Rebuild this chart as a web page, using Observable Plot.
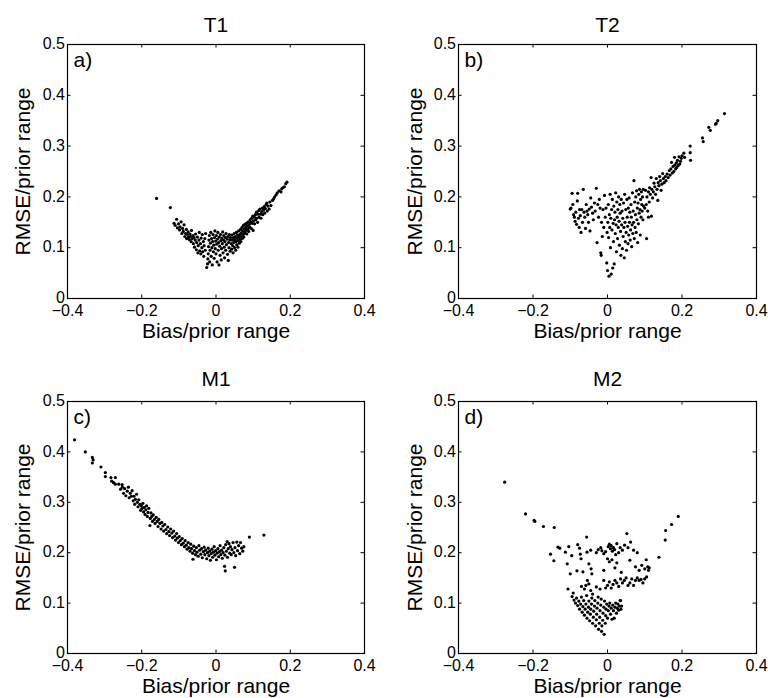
<!DOCTYPE html>
<html><head><meta charset="utf-8">
<script src="https://cdn.jsdelivr.net/npm/d3@7"></script>
<script src="https://cdn.jsdelivr.net/npm/@observablehq/plot@0.6"></script>
<style>
html,body{margin:0;padding:0;background:#fff;}
#chart{position:relative;width:768px;height:698px;overflow:hidden;background:#fff;}
#chart svg{position:absolute;}
</style></head><body><div id="chart"></div>
<script>
const panelTitles = ["T1", "T2", "M1", "M2"];
const panelLetters = ["a)", "b)", "c)", "d)"];
const xLabel = "Bias/prior range";
const yLabel = "RMSE/prior range";
const xTicks = [-0.4, -0.2, 0, 0.2, 0.4];
const yTicks = [0, 0.1, 0.2, 0.3, 0.4, 0.5];
const xInnerTicks = [-0.2, 0, 0.2];
const yInnerTicks = [0.1, 0.2, 0.3, 0.4];

// [bias, rmse] pairs
const t1Points = [
[-0.160,0.197],[-0.123,0.179],
[-0.113,0.148],[-0.110,0.144],[-0.106,0.156],[-0.104,0.139],[-0.101,0.147],[-0.098,0.135],[-0.097,0.141],[-0.094,0.151],[-0.092,0.128],[-0.090,0.138],[-0.088,0.132],[-0.086,0.145],[-0.084,0.122],[-0.082,0.128],[-0.080,0.136],[-0.079,0.118],[-0.077,0.126],[-0.075,0.131],[-0.074,0.121],[-0.072,0.116],[-0.070,0.127],[-0.069,0.122],[-0.067,0.112],[-0.066,0.134],[-0.064,0.118],[-0.062,0.124],[-0.061,0.108],[-0.059,0.120],[-0.058,0.101],[-0.056,0.115],[-0.055,0.127],[-0.053,0.096],[-0.052,0.110],[-0.050,0.121],[-0.049,0.090],[-0.048,0.104],[-0.046,0.115],[-0.045,0.130],[-0.044,0.094],[-0.042,0.108],[-0.041,0.088],[-0.040,0.119],[-0.038,0.100],[-0.037,0.126],[-0.036,0.092],[-0.034,0.112],[-0.033,0.083],[-0.032,0.104],[-0.030,0.118],[-0.029,0.095],[-0.028,0.128],
[-0.025,0.061],[-0.023,0.068],[-0.022,0.078],[-0.021,0.088],[-0.020,0.102],[-0.019,0.115],[-0.018,0.124],[-0.017,0.072],[-0.016,0.095],[-0.015,0.109],[-0.014,0.130],[-0.013,0.083],[-0.012,0.118],[-0.011,0.100],[-0.010,0.066],[-0.009,0.112],[-0.008,0.126],[-0.007,0.092],[-0.006,0.105],[-0.005,0.079],[-0.004,0.120],[-0.003,0.133],[-0.002,0.098],[-0.001,0.113],[0.000,0.088],[0.001,0.124],[0.002,0.107],[0.003,0.072],[0.004,0.117],[0.005,0.130],[0.006,0.095],[0.007,0.110],[0.008,0.066],[0.009,0.121],[0.010,0.103],[0.011,0.085],[0.012,0.126],[0.013,0.114],[0.014,0.076],[0.015,0.098],[0.016,0.119],[0.017,0.108],[0.018,0.131],[0.019,0.090],[0.020,0.115],[0.021,0.124],[0.022,0.101],[0.023,0.080],[0.024,0.112],[0.025,0.120],[0.026,0.095],[0.027,0.128],[0.028,0.106],[0.030,0.117],[0.031,0.087],[0.032,0.122],[0.033,0.075],[0.034,0.110],[0.035,0.100],[0.036,0.126],[0.037,0.115],[0.038,0.093],[0.039,0.120],
[0.041,0.108],[0.042,0.097],[0.043,0.125],[0.044,0.115],[0.045,0.104],[0.046,0.090],[0.047,0.120],[0.048,0.110],[0.049,0.128],[0.050,0.100],[0.051,0.116],[0.052,0.122],[0.053,0.095],[0.054,0.112],[0.055,0.130],[0.056,0.106],[0.057,0.119],[0.058,0.125],[0.059,0.101],[0.060,0.114],[0.061,0.133],[0.062,0.121],[0.063,0.109],[0.064,0.126],[0.065,0.117],[0.066,0.136],[0.067,0.112],[0.068,0.129],[0.069,0.122],[0.070,0.140],[0.071,0.118],[0.072,0.133],[0.073,0.126],[0.074,0.144],[0.075,0.121],[0.076,0.137],[0.077,0.130],[0.078,0.146],[0.079,0.128],[0.080,0.140],[0.081,0.134],[0.082,0.148],[0.083,0.127],[0.085,0.143],[0.086,0.137],[0.087,0.151],[0.088,0.132],[0.090,0.146],[0.091,0.140],[0.092,0.155],[0.094,0.150],[0.095,0.138],[0.096,0.158],[0.098,0.148],[0.099,0.162],[0.100,0.134],[0.101,0.153],[0.103,0.160],[0.104,0.147],[0.106,0.165],[0.107,0.155],[0.109,0.170],[0.110,0.158],[0.112,0.150],[0.113,0.166],[0.115,0.173],[0.116,0.160],[0.118,0.176],[0.120,0.166],[0.121,0.158],[0.123,0.171],[0.125,0.178],[0.126,0.165],[0.128,0.174],[0.130,0.181],[0.131,0.168],[0.133,0.177],[0.135,0.185],[0.137,0.188],[0.138,0.172],[0.140,0.182],[0.143,0.176],[0.145,0.190],[0.148,0.183],[0.152,0.193],[0.155,0.196],[0.158,0.200],[0.162,0.204],[0.165,0.208],[0.170,0.212],[0.175,0.210],[0.177,0.216],[0.180,0.218],[0.184,0.220],[0.188,0.226],[0.191,0.229]
];

const t2Points = [
[0.314,0.364],[0.296,0.350],[0.292,0.345],[0.290,0.343],[0.272,0.337],[0.276,0.331],[0.255,0.316],[0.257,0.309],[0.222,0.300],[0.222,0.287],[0.223,0.272],
[0.205,0.286],[0.207,0.278],[0.200,0.281],[0.198,0.276],[0.196,0.270],[0.194,0.265],[0.192,0.279],[0.190,0.262],[0.188,0.272],[0.186,0.258],[0.185,0.267],[0.183,0.255],[0.181,0.263],[0.180,0.278],[0.178,0.250],[0.176,0.260],[0.174,0.247],[0.172,0.268],[0.170,0.255],[0.168,0.243],[0.166,0.252],[0.163,0.238],[0.160,0.245],[0.157,0.232],[0.155,0.240],[0.152,0.228],[0.150,0.236],[0.148,0.246],[0.146,0.225],[0.144,0.213],[0.142,0.232],[0.140,0.240],[0.138,0.222],[0.136,0.228],[0.135,0.193],[0.133,0.215],[0.131,0.236],[0.129,0.205],[0.127,0.220],[0.125,0.227],[0.123,0.210],[0.121,0.198],[0.119,0.215],[0.117,0.238],[0.115,0.205],[0.113,0.218],[0.112,0.190],[0.110,0.210],[0.108,0.172],[0.106,0.200],[0.104,0.185],[0.102,0.213],[0.100,0.178],[0.105,0.118],[0.110,0.160],[0.118,0.162],
[-0.100,0.176],[-0.098,0.178],[-0.095,0.207],[-0.093,0.185],[-0.091,0.165],[-0.089,0.160],[-0.087,0.152],[-0.085,0.170],[-0.083,0.146],[-0.081,0.192],[-0.080,0.207],[-0.078,0.158],[-0.076,0.140],[-0.075,0.175],[-0.073,0.163],[-0.071,0.130],[-0.069,0.175],[-0.067,0.150],[-0.065,0.215],[-0.063,0.170],[-0.061,0.160],[-0.059,0.138],[-0.057,0.185],[-0.055,0.172],[-0.053,0.165],[-0.051,0.150],[-0.049,0.176],[-0.047,0.133],[-0.045,0.198],[-0.043,0.180],[-0.040,0.168],[-0.038,0.155],[-0.035,0.188],[-0.033,0.172],[-0.030,0.217],[-0.028,0.110],[-0.026,0.185],[-0.024,0.160],[-0.022,0.195],[-0.020,0.178],[-0.018,0.090],[-0.017,0.085],[-0.016,0.150],[-0.014,0.122],[-0.012,0.175],[-0.010,0.140],
[-0.008,0.203],[-0.006,0.160],[-0.004,0.178],[-0.002,0.070],[-0.001,0.130],[0.000,0.055],[0.001,0.150],[0.002,0.185],[0.003,0.120],[0.004,0.044],[0.005,0.165],[0.006,0.140],[0.007,0.205],[0.008,0.100],[0.009,0.158],[0.010,0.048],[0.011,0.175],[0.012,0.135],[0.013,0.195],[0.014,0.060],[0.015,0.148],[0.016,0.112],[0.017,0.182],[0.018,0.068],[0.019,0.155],[0.020,0.170],[0.021,0.128],[0.022,0.208],[0.023,0.145],[0.024,0.092],[0.025,0.190],[0.026,0.160],[0.027,0.118],[0.028,0.175],[0.029,0.140],[0.030,0.200],[0.031,0.152],[0.032,0.105],[0.033,0.185],[0.034,0.168],[0.035,0.132],[0.036,0.085],[0.037,0.195],[0.038,0.145],[0.039,0.172],[0.040,0.098],[0.041,0.158],[0.042,0.122],[0.043,0.188],[0.044,0.140],[0.045,0.080],[0.046,0.205],[0.047,0.150],[0.048,0.112],[0.049,0.175],[0.050,0.130],[0.051,0.095],[0.052,0.195],[0.053,0.160],[0.054,0.142],[0.055,0.108],[0.056,0.178],[0.057,0.125],[0.058,0.198],[0.059,0.150],[0.060,0.170],[0.061,0.115],[0.062,0.135],[0.063,0.185],[0.064,0.160],[0.065,0.102],[0.066,0.145],[0.067,0.208],[0.068,0.128],[0.069,0.172],[0.070,0.150],[0.071,0.232],[0.072,0.118],[0.073,0.190],[0.074,0.140],[0.075,0.165],[0.076,0.200],[0.077,0.130],[0.078,0.212],[0.079,0.155],[0.080,0.178],[0.081,0.110],[0.082,0.188],[0.083,0.147],[0.084,0.205],[0.085,0.168],[0.086,0.215],[0.087,0.175],[0.088,0.125],[0.089,0.195],[0.090,0.160],[0.091,0.210],[0.092,0.185],[0.093,0.172],[0.094,0.200],[0.095,0.155],[0.096,0.215],[0.097,0.182]
];

const m1Points = [
[-0.381,0.424],[-0.352,0.400],[-0.333,0.389],[-0.331,0.384],[-0.333,0.378],[-0.310,0.370],[-0.298,0.359],[-0.298,0.351],[-0.283,0.349],[-0.271,0.349],[-0.281,0.342],[-0.276,0.339],[-0.271,0.336],[-0.262,0.336],[-0.253,0.335],
[-0.257,0.326],[-0.252,0.330],[-0.249,0.318],[-0.246,0.327],[-0.243,0.313],[-0.239,0.322],[-0.236,0.330],[-0.234,0.309],[-0.231,0.318],[-0.228,0.312],[-0.226,0.323],[-0.223,0.303],[-0.221,0.312],[-0.219,0.296],[-0.217,0.306],[-0.214,0.316],[-0.212,0.300],[-0.210,0.291],[-0.208,0.305],[-0.205,0.296],[-0.203,0.284],[-0.201,0.293],[-0.199,0.288],[-0.197,0.298],[-0.195,0.281],[-0.193,0.290],[-0.191,0.276],[-0.189,0.285],[-0.187,0.293],[-0.185,0.272],[-0.183,0.280],[-0.181,0.288],[-0.178,0.254],[-0.177,0.268],[-0.175,0.279],[-0.173,0.272],[-0.171,0.262],[-0.169,0.275],[-0.166,0.266],[-0.164,0.258],[-0.161,0.270],[-0.158,0.262],[-0.156,0.252],[-0.154,0.266],[-0.151,0.258],[-0.148,0.247],[-0.146,0.260],[-0.143,0.253],[-0.141,0.243],[-0.138,0.256],[-0.135,0.246],[-0.133,0.238],[-0.130,0.251],[-0.127,0.242],[-0.125,0.234],[-0.122,0.247],[-0.119,0.239],[-0.117,0.230],[-0.114,0.243],[-0.111,0.233],[-0.109,0.225],[-0.106,0.238],[-0.104,0.229],[-0.101,0.220],[-0.099,0.232],[-0.096,0.224],[-0.093,0.216],[-0.091,0.228],[-0.088,0.219],[-0.085,0.212],[-0.083,0.224],[-0.080,0.215],[-0.078,0.207],[-0.075,0.220],[-0.073,0.210],[-0.070,0.203],[-0.068,0.217],[-0.066,0.208],[-0.063,0.199],[-0.062,0.187],[-0.060,0.213],[-0.058,0.204],[-0.055,0.196],[-0.053,0.210],[-0.051,0.201],[-0.048,0.193],[-0.046,0.214],[-0.044,0.205],[-0.041,0.197],[-0.039,0.208],[-0.037,0.190],[-0.034,0.202],[-0.032,0.211],[-0.030,0.196],[-0.028,0.205],[-0.025,0.188],[-0.023,0.200],[-0.021,0.209],[-0.019,0.194],[-0.017,0.203],[-0.015,0.185],[-0.013,0.198],[-0.011,0.207],[-0.009,0.191],[-0.007,0.201],[-0.005,0.212],[-0.003,0.195],[-0.001,0.204],[0.001,0.186],[0.003,0.199],[0.005,0.208],[0.007,0.192],[0.009,0.202],[0.011,0.214],[0.013,0.196],[0.015,0.205],[0.017,0.189],[0.019,0.200],[0.021,0.210],[0.023,0.173],[0.024,0.195],[0.025,0.164],[0.026,0.216],[0.028,0.203],[0.030,0.222],[0.031,0.191],[0.033,0.208],[0.035,0.218],[0.037,0.199],[0.039,0.212],[0.041,0.196],[0.043,0.206],[0.046,0.220],[0.048,0.200],[0.050,0.171],[0.051,0.210],[0.053,0.194],[0.056,0.221],[0.058,0.204],[0.061,0.214],[0.064,0.198],[0.066,0.220],[0.069,0.209],[0.072,0.203],[0.075,0.212],[0.090,0.231],[0.129,0.235]
];

const m2Points = [
[-0.276,0.340],[-0.220,0.277],[-0.197,0.264],[-0.195,0.262],[-0.172,0.252],[-0.143,0.250],[0.190,0.272],[0.172,0.256],[0.156,0.244],[0.155,0.225],[0.138,0.191],[0.052,0.238],[-0.056,0.231],
[-0.153,0.197],[-0.144,0.184],[-0.133,0.211],[-0.128,0.209],[-0.113,0.201],[-0.104,0.212],[-0.096,0.194],[-0.080,0.216],[-0.075,0.209],[-0.073,0.197],[-0.071,0.188],[-0.055,0.201],[-0.045,0.205],[-0.030,0.200],[-0.025,0.206],[-0.018,0.210],[-0.015,0.204],[-0.010,0.198],[-0.005,0.202],[0.002,0.212],[0.005,0.217],[0.008,0.208],[0.010,0.214],[0.013,0.203],[0.016,0.210],[0.019,0.206],[0.022,0.196],[0.025,0.218],[0.030,0.200],[0.034,0.210],[0.040,0.205],[0.046,0.215],[0.055,0.210],[0.062,0.221],[0.070,0.205],[0.080,0.200],
[-0.108,0.178],[-0.100,0.158],[-0.082,0.164],[-0.066,0.162],[-0.050,0.178],[-0.044,0.168],[-0.042,0.158],[-0.010,0.165],[0.000,0.188],[0.005,0.182],[0.012,0.186],[0.020,0.170],[0.025,0.180],[0.037,0.161],[0.060,0.185],[0.075,0.172],[0.085,0.165],[0.092,0.175],[0.100,0.168],[0.104,0.186],[0.108,0.172],[0.110,0.165],[0.112,0.170],
[-0.106,0.128],[-0.092,0.120],[-0.070,0.133],[-0.062,0.128],[-0.058,0.135],[-0.054,0.145],[-0.050,0.138],[-0.045,0.125],[-0.040,0.118],[-0.030,0.132],[-0.020,0.128],[-0.010,0.145],[-0.005,0.130],[0.000,0.135],[0.005,0.142],[0.010,0.130],[0.015,0.137],[0.020,0.145],[0.025,0.140],[0.030,0.133],[0.035,0.148],[0.040,0.140],[0.045,0.145],[0.050,0.150],[0.055,0.135],[0.060,0.140],[0.065,0.148],[0.070,0.135],[0.075,0.145],[0.080,0.150],[0.085,0.145],[0.090,0.147],[0.095,0.140],[0.100,0.148],[0.105,0.152],[0.035,0.105],
[-0.095,0.113],[-0.090,0.106],[-0.086,0.100],[-0.083,0.110],[-0.080,0.095],[-0.077,0.104],[-0.075,0.088],[-0.072,0.098],[-0.070,0.112],[-0.068,0.082],[-0.066,0.093],[-0.064,0.105],[-0.062,0.076],[-0.060,0.088],[-0.058,0.098],[-0.056,0.115],[-0.055,0.070],[-0.053,0.082],[-0.051,0.092],[-0.050,0.104],[-0.048,0.065],[-0.046,0.078],[-0.045,0.088],[-0.043,0.098],[-0.042,0.110],[-0.040,0.060],[-0.038,0.072],[-0.037,0.084],[-0.035,0.094],[-0.034,0.105],[-0.032,0.055],[-0.030,0.067],[-0.029,0.078],[-0.028,0.090],[-0.026,0.100],[-0.025,0.112],[-0.024,0.048],[-0.022,0.060],[-0.021,0.072],[-0.020,0.085],[-0.018,0.096],[-0.017,0.108],[-0.016,0.044],[-0.015,0.055],[-0.013,0.066],[-0.012,0.080],[-0.010,0.092],[-0.009,0.038],[-0.008,0.104],[-0.006,0.060],[-0.005,0.075],[-0.004,0.088],[-0.002,0.098],[0.000,0.070],[0.002,0.085],[0.004,0.094],[0.006,0.100],[0.008,0.078],[0.010,0.090],[0.012,0.068],[0.014,0.096],[0.016,0.085],[0.018,0.070],[0.020,0.092],[0.022,0.100],[0.024,0.080],[0.026,0.090],[0.028,0.098],[0.030,0.086],[0.032,0.094],[0.034,0.105],[0.036,0.088],[0.038,0.094]
];

const panelData = [t1Points, t2Points, m1Points, m2Points];

// layout of each panel (pixels)
const layouts = [
  {left: 0,   top: 0,   mL: 67, mR: 20, mT: 44, mB: 51, titleDy: -12.5, yLabelDx: -44},
  {left: 384, top: 0,   mL: 74, mR: 12, mT: 44, mB: 51, titleDy: -12.5, yLabelDx: -43},
  {left: 0,   top: 349, mL: 67, mR: 20, mT: 52, mB: 45, titleDy: -15.5, yLabelDx: -44},
  {left: 384, top: 349, mL: 74, mR: 12, mT: 52, mB: 45, titleDy: -15.5, yLabelDx: -43}
];

const fmt = d => d === 0 ? "0" : (d < 0 ? "\u2212" : "") + Math.abs(d);
const FONT = "'Liberation Sans', Arial, Helvetica, sans-serif";
const W = 384, H = 349, TL = 3.5;

const chart = document.getElementById("chart");
layouts.forEach((L, i) => {
  const pw = W - L.mL - L.mR, ph = H - L.mT - L.mB;
  const svg = Plot.plot({
    width: W, height: H,
    marginLeft: L.mL, marginRight: L.mR, marginTop: L.mT, marginBottom: L.mB,
    style: {fontFamily: FONT, background: "white", overflow: "visible", color: "black"},
    x: {domain: [-0.4, 0.4], label: null},
    y: {domain: [0, 0.5], label: null},
    marks: [
      Plot.axisX({ticks: xTicks, tickSize: 0, tickPadding: 6.5, tickFormat: fmt, fontSize: 16, label: null}),
      Plot.axisY({ticks: yTicks, tickSize: 0, tickPadding: 2.5, tickFormat: fmt, fontSize: 16, label: null, dy: -0.5}),
      Plot.tickX(xInnerTicks, {x: d => d, insetTop: ph - TL, stroke: "black"}),
      Plot.tickX(xInnerTicks, {x: d => d, insetBottom: ph - TL, stroke: "black"}),
      Plot.tickY(yInnerTicks, {y: d => d, insetRight: pw - TL, stroke: "black"}),
      Plot.tickY(yInnerTicks, {y: d => d, insetLeft: pw - TL, stroke: "black"}),
      Plot.dot(panelData[i], {x: d => d[0], y: d => d[1], r: 1.6, fill: "black"}),
      Plot.frame({stroke: "black", strokeWidth: 1.2}),
      Plot.text([panelTitles[i]], {frameAnchor: "top", dy: L.titleDy, lineAnchor: "bottom", fontSize: 21, fill: "black"}),
      Plot.text([panelLetters[i]], {frameAnchor: "top-left", dx: 6, dy: 22.5, lineAnchor: "bottom", textAnchor: "start", fontSize: 21, fill: "black"}),
      Plot.text([xLabel], {frameAnchor: "bottom", dy: 39, lineAnchor: "bottom", textAnchor: "middle", fontSize: 21, fill: "black"}),
      Plot.text([yLabel], {frameAnchor: "left", dx: L.yLabelDx, rotate: -90, textAnchor: "middle", fontSize: 21, fill: "black"})
    ]
  });
  svg.style.left = L.left + "px";
  svg.style.top = L.top + "px";
  chart.appendChild(svg);
});
</script>
</body></html>
